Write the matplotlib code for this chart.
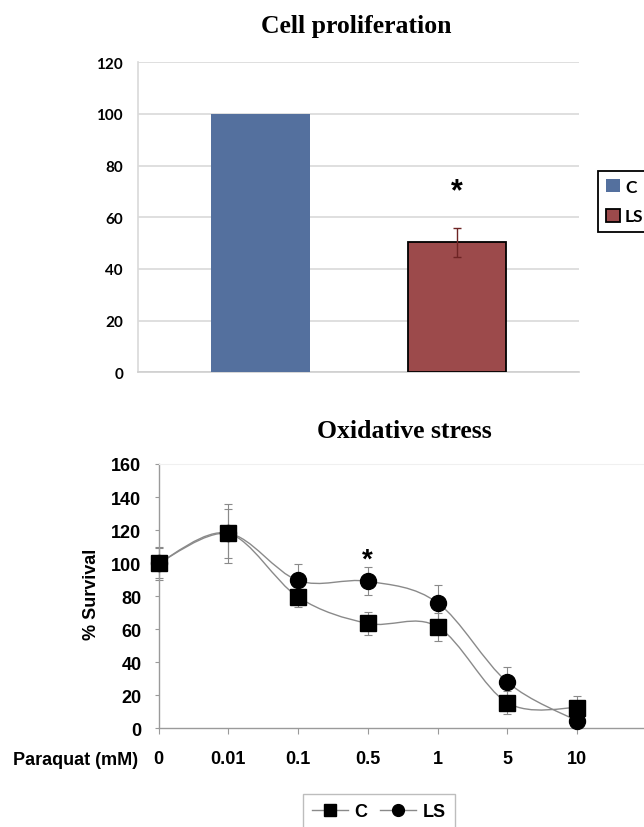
import matplotlib
matplotlib.use("Agg")
import matplotlib.pyplot as plt
import numpy as np
from matplotlib.path import Path
from matplotlib.patches import PathPatch, Patch
from matplotlib.lines import Line2D

# --- data: cell proliferation (bar chart)
prolif_groups = ['C', 'LS']
prolif_vals = [100, 50.4]
prolif_err = [0, 5.6]
prolif_colors = ['#54709e', '#9c4a4b']
prolif_star = 70

# --- data: oxidative stress (line chart)
paraquat = ['0', '0.01', '0.1', '0.5', '1', '5', '10']
surv_C = [100, 118, 79.5, 63.5, 61.5, 15.5, 12.5]
err_C = [9, 18, 6, 6.8, 8.5, 7, 7]
surv_LS = [100, 118, 89.5, 89, 76, 28, 4.5]
err_LS = [10, 15, 10, 8.5, 10.5, 9, 3]
stress_star = 102

W, H = 644, 828
fig = plt.figure(figsize=(W/100, H/100), dpi=100)

def fx(px):
    return px / W
def fy(py):
    return 1 - py / H

serif = 'Liberation Serif'
sans = 'Liberation Sans'

# ---------------- top chart
ax1 = fig.add_axes([fx(138.3), fy(373.3), fx(579 - 138.3), (373.3 - 63.3) / H])
xb = np.arange(len(prolif_groups))
edges = ['none', 'black']
for i in range(len(xb)):
    ax1.bar(xb[i], prolif_vals[i], width=0.5, color=prolif_colors[i],
            edgecolor=edges[i], linewidth=1.3, zorder=3, label=prolif_groups[i])
for i in range(len(xb)):
    if prolif_err[i] > 0:
        ax1.errorbar(xb[i], prolif_vals[i], yerr=prolif_err[i], fmt='none',
                     ecolor='#6e2424', elinewidth=1.0, capsize=3, capthick=1.0, zorder=4)
ax1.text(1, prolif_star, '*', ha='center', va='center', fontsize=22,
         fontweight='bold', family=sans, zorder=5)
ax1.set_xlim(-0.622, 1.621)
ax1.set_ylim(0, 120)
ax1.set_yticks(range(0, 121, 20))
ax1.set_xticks([])
ax1.grid(axis='y', color='#d9d9d9', linewidth=1.2, zorder=0)
for s in ['top', 'right']:
    ax1.spines[s].set_visible(False)
ax1.spines['left'].set_color('#d9d9d9')
ax1.spines['left'].set_linewidth(1.2)
ax1.spines['bottom'].set_color('#cfcfcf')
ax1.spines['bottom'].set_linewidth(1.2)
ax1.tick_params(axis='y', length=0, pad=11)
for lab in ax1.get_yticklabels():
    lab.set_fontfamily('Lato')
    lab.set_fontweight('bold')
    lab.set_fontsize(11)
fig.text(fx(356.5), fy(27), 'Cell proliferation', ha='center', va='center',
         family=serif, fontweight='bold', fontsize=18.5)
h1 = [Patch(facecolor=prolif_colors[0], edgecolor='none'),
      Patch(facecolor=prolif_colors[1], edgecolor='black', linewidth=1.3)]
leg1 = fig.legend(h1, prolif_groups, loc='upper left',
                  bbox_to_anchor=(fx(598), fy(171.7)), borderaxespad=0,
                  fancybox=False, edgecolor='black', framealpha=1,
                  handlelength=0.8, handleheight=0.8, handletextpad=0.3,
                  labelspacing=0.8, borderpad=0.45,
                  prop={'family': 'Lato', 'weight': 'bold', 'size': 12.5})
leg1.get_frame().set_linewidth(1.3)

# ---------------- bottom chart
ax2 = fig.add_axes([fx(158.5), fy(729.3), 1 - fx(158.5), (729.3 - 465) / H])
xp = np.arange(len(paraquat))

def smooth_path(x, y):
    # Excel-like smoothed line: cubic Bezier segments through the points
    n = len(x)
    pts = np.column_stack([x, y]).astype(float)
    verts = [pts[0]]
    codes = [Path.MOVETO]
    for i in range(n - 1):
        p0 = pts[i - 1] if i > 0 else pts[i]
        p1 = pts[i]
        p2 = pts[i + 1]
        p3 = pts[i + 2] if i + 2 < n else pts[i + 1]
        c1 = p1 + (p2 - p0) / 6.0
        c2 = p2 - (p3 - p1) / 6.0
        verts += [c1, c2, p2]
        codes += [Path.CURVE4] * 3
    return Path(verts, codes)

line_col = '#8a8a8a'
for yv in (surv_C, surv_LS):
    ax2.add_patch(PathPatch(smooth_path(xp, yv), facecolor='none',
                            edgecolor=line_col, linewidth=1.0, zorder=2,
                            clip_on=False))
for yv, ev in ((surv_C, err_C), (surv_LS, err_LS)):
    eb = ax2.errorbar(xp, yv, yerr=ev, fmt='none', ecolor='#8a8a8a',
                      elinewidth=0.8, capsize=2.9, capthick=0.8, zorder=1)
    for art in eb.lines[1] + eb.lines[2]:
        art.set_clip_on(False)
ax2.plot(xp, surv_C, linestyle='none', marker='s', markersize=11,
         color='black', zorder=4, clip_on=False)
ax2.plot(xp, surv_LS, linestyle='none', marker='o', markersize=11.5,
         color='black', zorder=3, clip_on=False)
ax2.text(3, stress_star, '*', ha='center', va='center', fontsize=20,
         fontweight='bold', family=sans, zorder=5)

ax2.set_xlim(0, (W - 158.5) / 69.75)
ax2.set_ylim(0, 160)
ax2.set_yticks(range(0, 161, 20))
ax2.set_xticks(xp)
ax2.set_xticklabels(paraquat)
ax2.spines['right'].set_visible(False)
ax2.spines['top'].set_color('#f0f0f0')
for s in ['left', 'bottom']:
    ax2.spines[s].set_color('#9a9a9a')
    ax2.spines[s].set_linewidth(1.0)
ax2.tick_params(axis='x', length=4.3, width=0.8, color='#9a9a9a', pad=11)
ax2.tick_params(axis='y', length=2.9, width=0.8, color='#9a9a9a', pad=9.4)
for lab in ax2.get_xticklabels() + ax2.get_yticklabels():
    lab.set_fontfamily(sans)
    lab.set_fontweight('bold')
    lab.set_fontsize(13)
fig.text(fx(13), fy(761), 'Paraquat (mM)', ha='left', va='center',
         family=sans, fontweight='bold', fontsize=13)
fig.text(fx(91), fy(594.5), '% Survival', rotation=90, ha='center', va='center',
         family=sans, fontweight='bold', fontsize=13)
fig.text(fx(404), fy(432), 'Oxidative stress', ha='center', va='center',
         family=serif, fontweight='bold', fontsize=18.5)

h2 = [Line2D([], [], color=line_col, linewidth=1.0, marker='s', markersize=8,
             markerfacecolor='black', markeredgecolor='black'),
      Line2D([], [], color=line_col, linewidth=1.0, marker='o', markersize=8.5,
             markerfacecolor='black', markeredgecolor='black')]
leg2 = fig.legend(h2, ['C', 'LS'], loc='upper center', ncol=2,
                  bbox_to_anchor=(fx(379), fy(795)), borderaxespad=0,
                  fancybox=False, edgecolor='#bdbdbd', framealpha=1,
                  handlelength=2.0, handletextpad=0.35, columnspacing=0.7,
                  borderpad=0.5,
                  prop={'family': sans, 'weight': 'bold', 'size': 13})

fig.savefig('out.png', dpi=100)
